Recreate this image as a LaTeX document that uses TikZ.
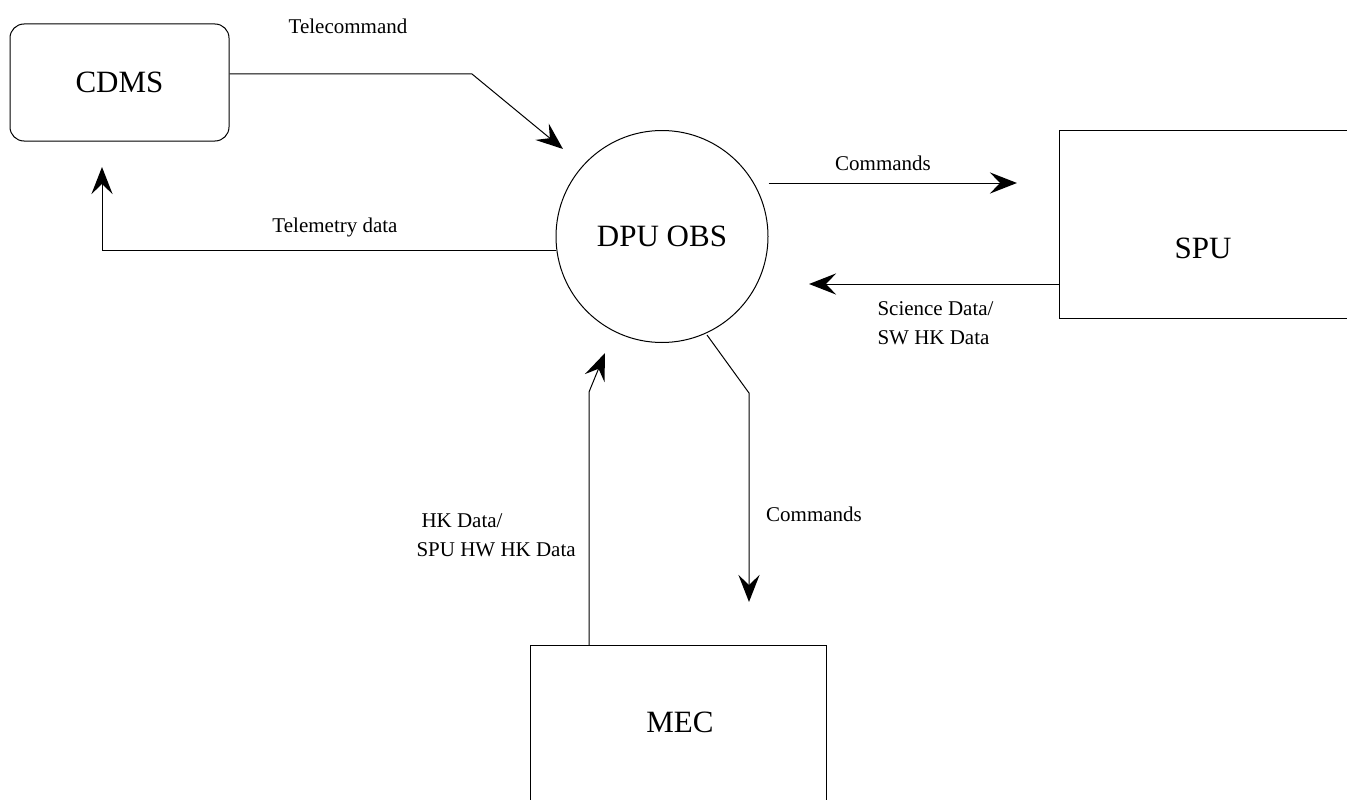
\documentclass[tikz,border=0pt]{standalone}
\usepackage{fontspec}
\setmainfont{Liberation Serif}
\usetikzlibrary{arrows.meta,calc}
\begin{document}
\begin{tikzpicture}[x=1pt,y=-1pt,
  line width=1pt,
  big/.style={font=\fontsize{31}{36}\selectfont},
  lbl/.style={font=\fontsize{21}{29}\selectfont, inner sep=0pt},
  flow/.style={draw, -{Stealth[length=27pt,width=21pt,inset=10pt,line width=3pt]}}]
\useasboundingbox (0,0) rectangle (1347,800);
% nodes
\node[draw, rounded corners=14pt, minimum width=219pt, minimum height=117pt, big] (cdms) at (119.5,82.5) {CDMS};
\node[draw, circle, minimum size=212pt, inner sep=0pt, big] (dpu) at (662,236.5) {DPU OBS};
\draw (1380,130) -- (1059,130) -- (1059,318) -- (1380,318);
\node[big] (spu) at (1203,248) {SPU};
\draw (530,830) -- (530,645) -- (826,645) -- (826,830);
\node[big] (mec) at (680,722) {MEC};
\coordinate (spuL) at (1059,224);
% connectors
\coordinate (tc1) at (472,74);
\coordinate (tcEnd) at (563,149);
\draw[flow] (cdms.east |- tc1) -- (tc1) -- (tcEnd);
\node[lbl] (tclbl) at (348,26) {Telecommand};

\coordinate (tm1) at (102,250);
\coordinate (tmEnd) at (102,167);
\draw[flow] (dpu.west |- tm1) -- (tm1) -- (tmEnd);
\node[lbl] (tmlbl) at (335,227) {Telemetry data};

\coordinate (cEnd) at (1017,183);
\draw[flow] (dpu.east |- cEnd) -- (cEnd);
\node[lbl] (clbl) at (883,163) {Commands};

\coordinate (sEnd) at (809,284);
\draw[flow] (spuL |- sEnd) -- (sEnd);
\node[lbl, anchor=west, align=left] (slbl) at (877,323) {Science Data/\\SW HK Data};

\coordinate (m0) at (707,335);
\coordinate (m1) at (749,393);
\coordinate (mEnd) at (749,602);
\draw[flow] (m0) -- (m1) -- (mEnd);
\node[lbl] (mlbl) at (814,514) {Commands};

\coordinate (h0) at (589,645);
\coordinate (h1) at (589,392);
\coordinate (hEnd) at (605,353);
\draw[flow] (h0) -- (h1) -- (hEnd);
\node[lbl, anchor=west, align=left] (hlbl) at (416,535) {\hspace*{5pt}HK Data/\\SPU HW HK Data};
\end{tikzpicture}
\end{document}
